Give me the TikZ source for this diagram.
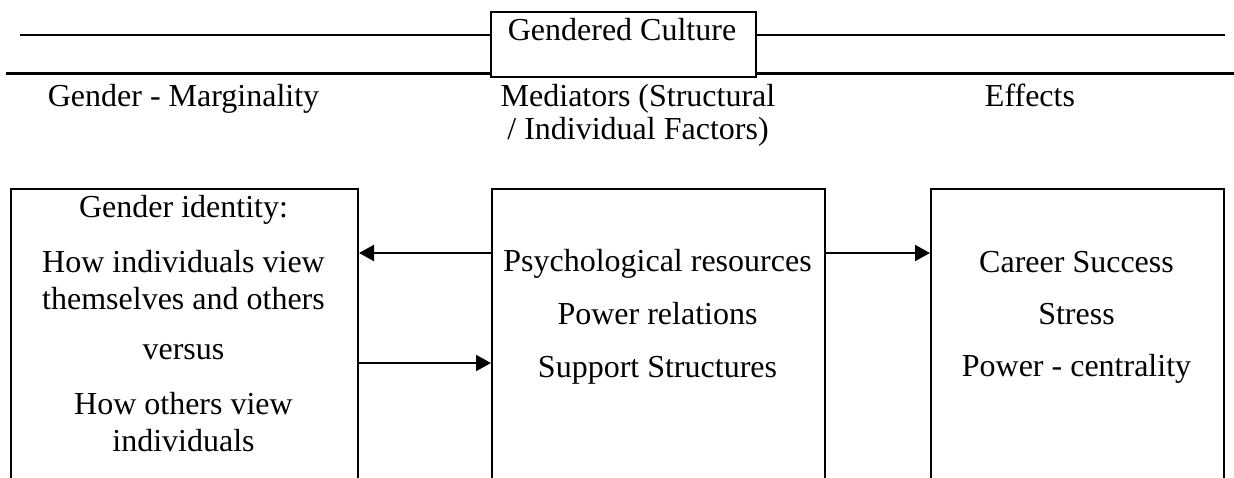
\documentclass[tikz,border=0pt]{standalone}
\usepackage{fontspec}
\setmainfont{Liberation Serif}
\usetikzlibrary{arrows.meta}
\begin{document}
\begin{tikzpicture}[x=1pt,y=-1pt,
  frame/.style={draw, line width=2pt, inner sep=0pt, anchor=north west},
  txt/.style={anchor=base, inner sep=0pt, font=\fontsize{32}{37}\selectfont},
  rule/.style={line width=2pt},
  thickrule/.style={line width=3pt},
  arr/.style={line width=2pt, -{Triangle[length=15pt,width=16pt]}}]
\clip (0,0) rectangle (1234,477);
\fill[white] (0,0) rectangle (1234,477);

% title box and the two rules
\node[frame, minimum width=265pt, minimum height=65pt] (culture) at (490,11) {};
\node[txt] (culturetxt) at (622,40) {Gendered Culture};
\coordinate (tl) at (20,35);
\coordinate (tr) at (1225,35);
\coordinate (bl) at (6,73);
\coordinate (br) at (1234,73);
\draw[rule] (tl) -- (culture.west |- tl);
\draw[rule] (culture.east |- tr) -- (tr);
\draw[thickrule] (bl) -- (culture.west |- bl);
\draw[thickrule] (culture.east |- br) -- (br);

% column headings
\node[txt] (h1) at (183.5,106) {Gender - Marginality};
\node[txt] (h2a) at (638,106) {Mediators (Structural};
\node[txt] (h2b) at (638,139) {/ Individual Factors)};
\node[txt] (h3) at (1030,106) {Effects};

% the three columns, open below
\node[frame, minimum width=347pt, minimum height=400pt] (left) at (10,188) {};
\node[frame, minimum width=333pt, minimum height=400pt] (mid) at (491,188) {};
\node[frame, minimum width=293pt, minimum height=400pt] (right) at (930,188) {};

% left column text
\node[txt] (l1) at (183.5,217) {Gender identity:};
\node[txt] (l2) at (183.5,272) {How individuals view};
\node[txt] (l3) at (183.5,309) {themselves and others};
\node[txt] (l4) at (183.5,359) {versus};
\node[txt] (l5) at (183.5,414) {How others view};
\node[txt] (l6) at (183.5,451) {individuals};

% middle column text
\node[txt] (m1) at (657.5,271) {Psychological resources};
\node[txt] (m2) at (657.5,324) {Power relations};
\node[txt] (m3) at (657.5,377) {Support Structures};

% right column text
\node[txt] (r1) at (1076.5,272) {Career Success};
\node[txt] (r2) at (1076.5,324) {Stress};
\node[txt] (r3) at (1076.5,376) {Power - centrality};

% connectors
\coordinate (upper) at (0,253);
\coordinate (lower) at (0,363);
\draw[arr] (mid.west |- upper) -- (left.east |- upper);
\draw[arr] (left.east |- lower) -- (mid.west |- lower);
\draw[arr] (mid.east |- upper) -- (right.west |- upper);
\end{tikzpicture}
\end{document}
